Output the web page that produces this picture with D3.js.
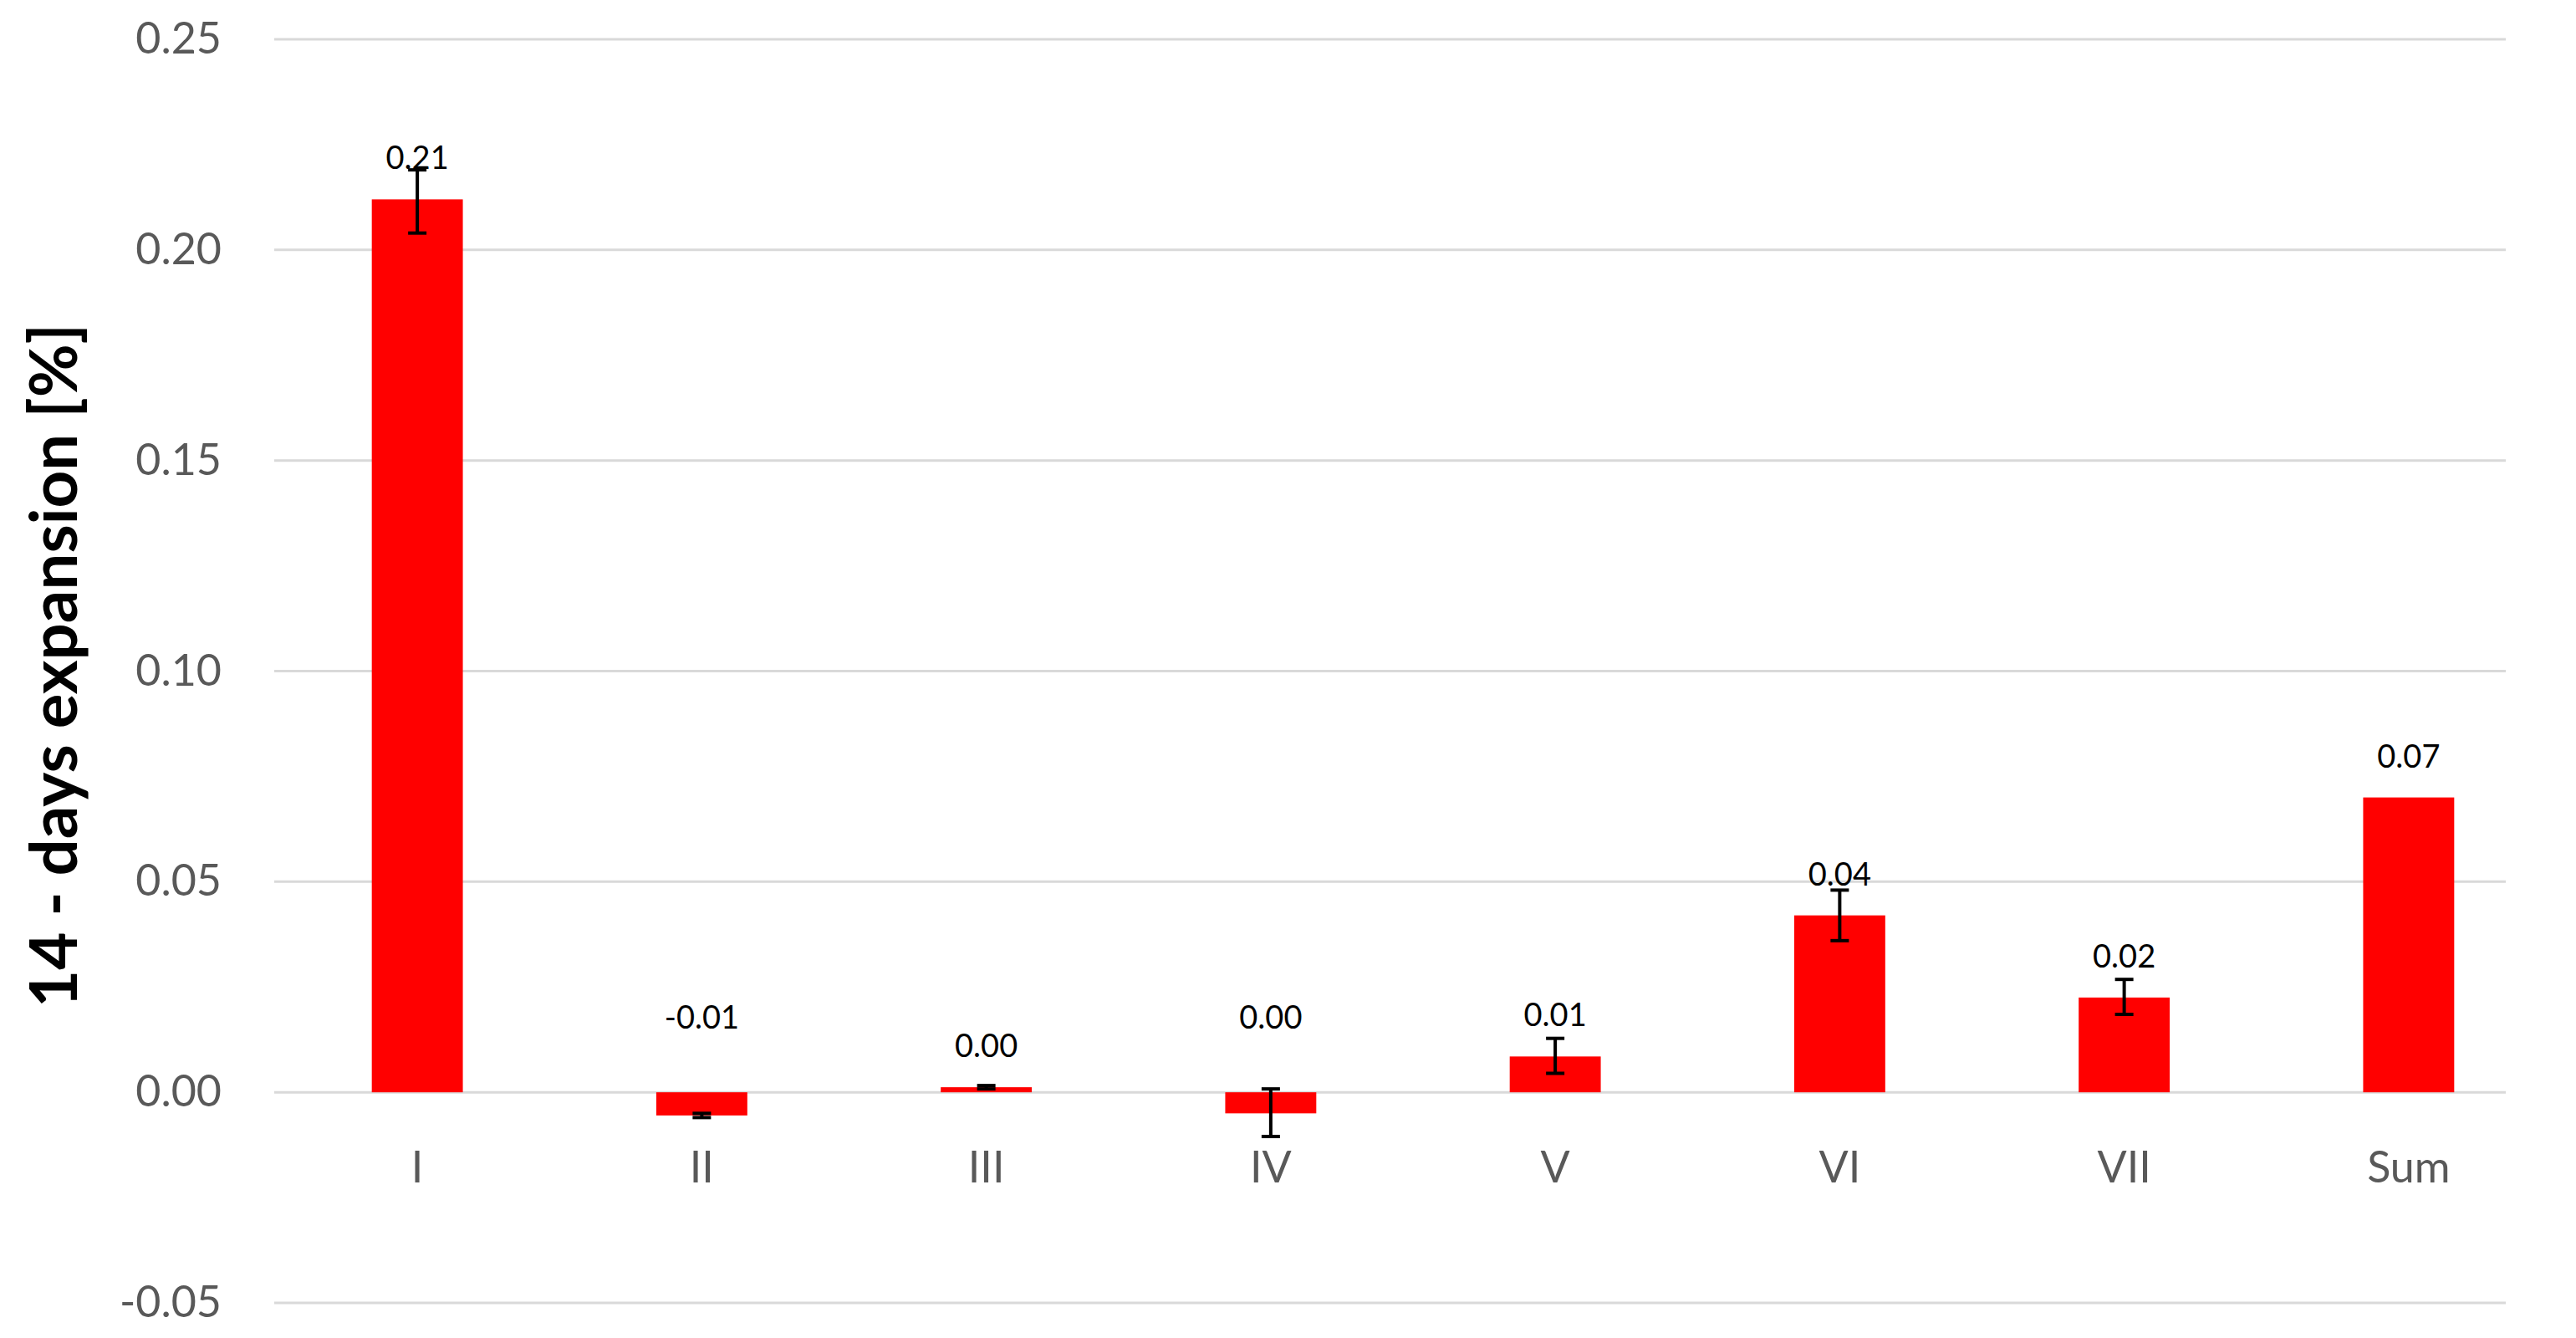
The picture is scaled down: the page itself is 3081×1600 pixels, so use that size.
<!DOCTYPE html>
<html>
<head>
<meta charset="utf-8">
<script src="https://cdn.jsdelivr.net/npm/d3@7"></script>
<style>
  body { margin: 0; background: #fff; }
  text { font-family: Lato, "Open Sans", sans-serif; }
</style>
</head>
<body>
<div id="chart"></div>
<script>
// data
var categories = ["I", "II", "III", "IV", "V", "VI", "VII", "Sum"];
var values = [0.212, -0.0055, 0.0012, -0.005, 0.0085, 0.042, 0.0225, 0.070];
var errLow = [0.204, -0.006, 0.0008, -0.0105, 0.0045, 0.036, 0.0185, null];
var errHigh = [0.219, -0.005, 0.0016, 0.0008, 0.0128, 0.048, 0.0268, null];
var valueLabels = ["0.21", "-0.01", "0.00", "0.00", "0.01", "0.04", "0.02", "0.07"];
var yTicks = [-0.05, 0, 0.05, 0.10, 0.15, 0.20, 0.25];

var width = 3081;
var height = 1600;

var svg = d3.select("#chart")
  .append("svg")
  .attr("width", width)
  .attr("height", height);

var xScale = d3.scaleBand()
  .domain(categories)
  .range([329, 3051])
  .paddingInner(0.68)
  .paddingOuter(0.34);

var yScale = d3.scaleLinear()
  .domain([-0.05, 0.25])
  .range([1558, 47]);

// gridlines
svg.append("g")
  .selectAll("line")
  .data(yTicks)
  .enter()
  .append("line")
  .attr("x1", 328)
  .attr("x2", 2997)
  .attr("y1", function(d) { return yScale(d); })
  .attr("y2", function(d) { return yScale(d); })
  .attr("stroke", "#d9d9d9")
  .attr("stroke-width", 3);

// y axis labels
var yAxis = d3.axisLeft(yScale)
  .tickValues(yTicks)
  .tickFormat(function(d) { return d3.format(".2f")(d).replace("\u2212", "-"); })
  .tickSize(0)
  .tickPadding(0);

svg.append("g")
  .attr("transform", "translate(265,0)")
  .call(yAxis)
  .call(function(g) { g.select(".domain").remove(); })
  .selectAll("text")
  .attr("font-size", 52)
  .attr("fill", "#595959")
  .style("font-family", "Lato, 'Open Sans', sans-serif");

// bars
var idx = d3.range(categories.length);

svg.append("g")
  .selectAll("rect")
  .data(idx)
  .enter()
  .append("rect")
  .attr("x", function(i) { return xScale(categories[i]); })
  .attr("width", xScale.bandwidth())
  .attr("y", function(i) { return yScale(Math.max(0, values[i])); })
  .attr("height", function(i) { return Math.abs(yScale(values[i]) - yScale(0)); })
  .attr("fill", "#ff0000");

// error bars
var errG = svg.append("g")
  .selectAll("g")
  .data(idx.filter(function(i) { return errLow[i] !== null; }))
  .enter()
  .append("g")
  .attr("stroke", "#000")
  .attr("stroke-width", 4);

function cx(i) { return xScale(categories[i]) + xScale.bandwidth() / 2; }

errG.append("line")
  .attr("x1", cx).attr("x2", cx)
  .attr("y1", function(i) { return yScale(errLow[i]); })
  .attr("y2", function(i) { return yScale(errHigh[i]); });
errG.append("line")
  .attr("x1", function(i) { return cx(i) - 11; })
  .attr("x2", function(i) { return cx(i) + 11; })
  .attr("y1", function(i) { return yScale(errLow[i]); })
  .attr("y2", function(i) { return yScale(errLow[i]); });
errG.append("line")
  .attr("x1", function(i) { return cx(i) - 11; })
  .attr("x2", function(i) { return cx(i) + 11; })
  .attr("y1", function(i) { return yScale(errHigh[i]); })
  .attr("y2", function(i) { return yScale(errHigh[i]); });

// value labels
svg.append("g")
  .selectAll("text")
  .data(idx)
  .enter()
  .append("text")
  .attr("x", cx)
  .attr("y", function(i) {
    if (values[i] < 0) return yScale(0) - 76;
    return yScale(values[i]) - 36;
  })
  .attr("text-anchor", "middle")
  .attr("font-size", 38)
  .attr("fill", "#000")
  .text(function(i) { return valueLabels[i]; });

// category labels
svg.append("g")
  .selectAll("text")
  .data(categories)
  .enter()
  .append("text")
  .attr("x", function(d) { return xScale(d) + xScale.bandwidth() / 2; })
  .attr("y", 1414)
  .attr("text-anchor", "middle")
  .attr("font-size", 52)
  .attr("fill", "#595959")
  .text(function(d) { return d; });

// y title
svg.append("text")
  .attr("transform", "translate(92,796)rotate(-90)")
  .attr("text-anchor", "middle")
  .attr("font-size", 78)
  .attr("font-weight", "bold")
  .attr("fill", "#000")
  .text("14 - days expansion [%]");
</script>
</body>
</html>
